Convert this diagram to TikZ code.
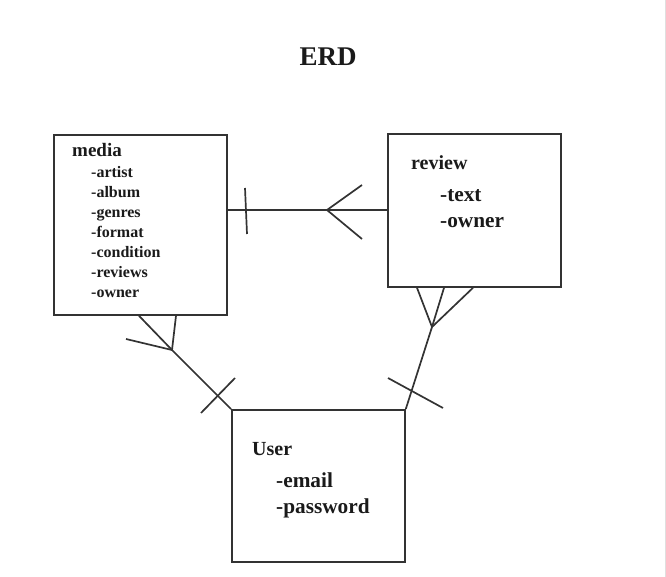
\documentclass[tikz,border=0pt]{standalone}
\usepackage{fontspec}
\setmainfont{Liberation Serif}
\definecolor{linec}{HTML}{333333}
\definecolor{txtc}{HTML}{1A1A1A}
\begin{document}
\begin{tikzpicture}[x=1pt,y=-1pt,
  entity/.style={draw=linec, line width=1.8pt, anchor=north west, inner sep=0pt, minimum width=173pt},
  conn/.style={draw=linec, line width=1.7pt},
  ttl/.style={anchor=base west, text=txtc, font=\bfseries\fontsize{19}{21}\selectfont, inner sep=0pt},
  attr/.style={anchor=base west, text=txtc, font=\bfseries\fontsize{16}{18}\selectfont, inner sep=0pt},
  attrbig/.style={anchor=base west, text=txtc, font=\bfseries\fontsize{21.3}{23}\selectfont, inner sep=0pt}]
\useasboundingbox (0,0) rectangle (666,577);
\draw[gray!25, line width=1pt] (665,0) -- (665,577);
\node[anchor=base, text=txtc, font=\bfseries\fontsize{27}{30}\selectfont, inner sep=0pt] (erd) at (328,66) {ERD};

% entities
\node[entity, minimum height=180pt] (media) at (53,134) {};
\node[entity, minimum height=153pt] (review) at (387,133) {};
\node[entity, minimum height=152pt] (user) at (231,409) {};

% media texts
\node[ttl] (mt) at (72,157) {media};
\node[attr] (m1) at (91,178) {-artist};
\node[attr] (m2) at (91,198) {-album};
\node[attr] (m3) at (91,218) {-genres};
\node[attr] (m4) at (91,238) {-format};
\node[attr] (m5) at (91,258) {-condition};
\node[attr] (m6) at (91,277) {-reviews};
\node[attr] (m7) at (91,297) {-owner};

% review texts
\node[ttl, font=\bfseries\fontsize{20}{22}\selectfont] (rt) at (411,170) {review};
\node[attrbig] (r1) at (440,202) {-text};
\node[attrbig] (r2) at (440,228) {-owner};

% user texts
\node[ttl, font=\bfseries\fontsize{20}{22}\selectfont] (ut) at (252,455) {User};
\node[attrbig] (u1) at (276,487) {-email};
\node[attrbig] (u2) at (276,513) {-password};

% media -- review
\coordinate (cf1) at (327,210);
\draw[conn] (media.east |- cf1) -- (review.west |- cf1);
\coordinate (b1a) at (245,188); \coordinate (b1b) at (247,234);
\draw[conn] (b1a) -- (b1b);
\coordinate (p1a) at (362,185); \coordinate (p1b) at (362,239);
\draw[conn] (p1a) -- (cf1) -- (p1b);

% media -- user
\coordinate (cf2) at (172,350);
\draw[conn] (media.south west -| 139,0) -- (cf2) -- (user.north west);
\draw[conn] (media.south west -| 176,0) -- (cf2) -- (126,339);
\coordinate (b2a) at (235,378); \coordinate (b2b) at (201,413);
\draw[conn] (b2a) -- (b2b);

% review -- user
\coordinate (cf3) at (432,327);
\draw[conn] (cf3) -- (user.north east);
\draw[conn] (review.south west -| 417,0) -- (cf3);
\draw[conn] (review.south west -| 444,0) -- (cf3);
\draw[conn] (review.south west -| 473,0) -- (cf3);
\coordinate (b3a) at (388,378); \coordinate (b3b) at (443,408);
\draw[conn] (b3a) -- (b3b);
\end{tikzpicture}
\end{document}
